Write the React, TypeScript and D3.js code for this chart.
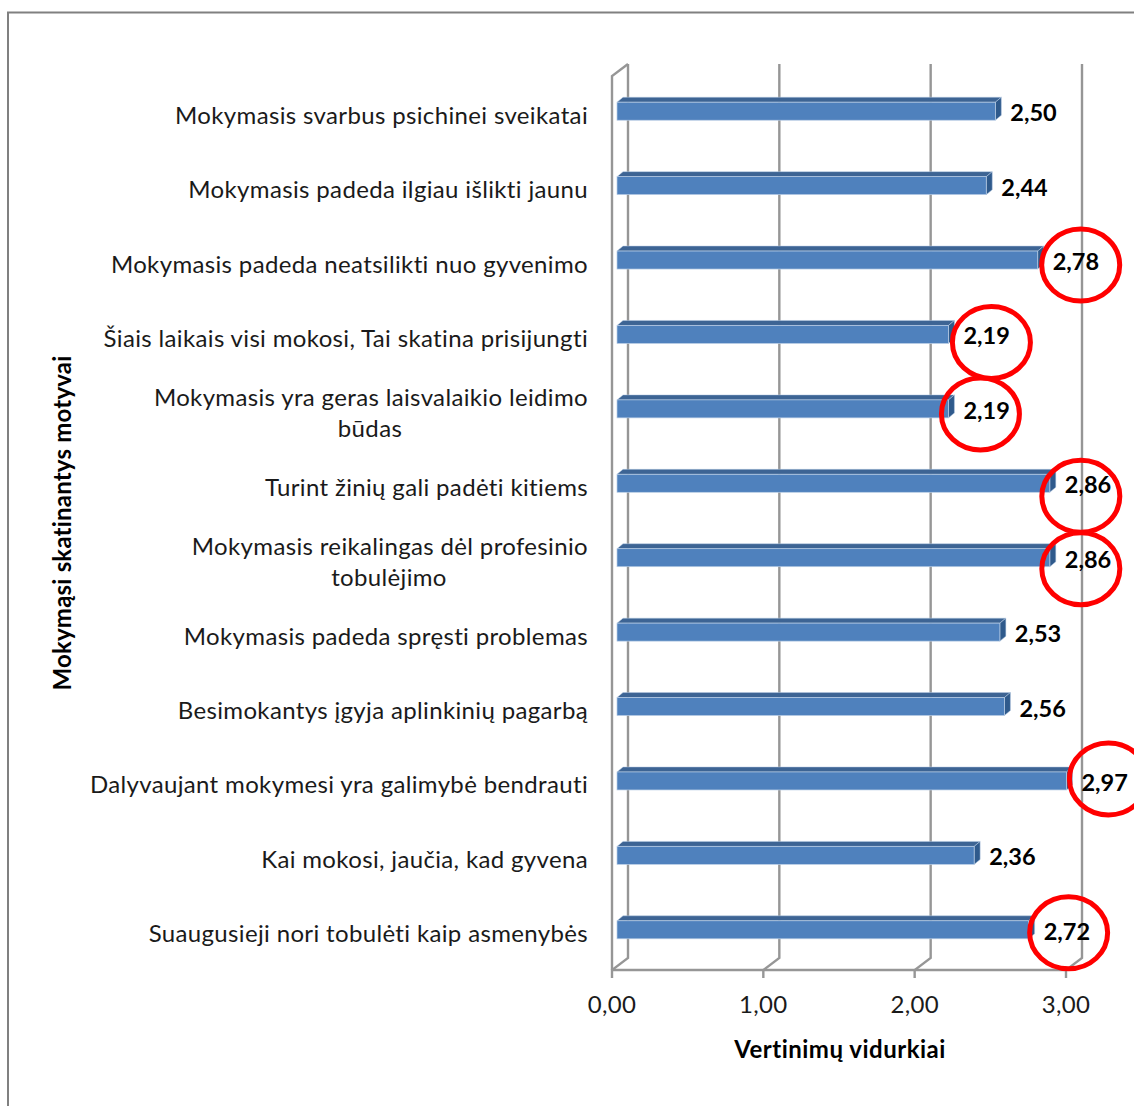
import React from "react";
import * as d3 from "d3";

const categories = [
  ["Mokymasis svarbus psichinei sveikatai"],
  ["Mokymasis padeda ilgiau išlikti jaunu"],
  ["Mokymasis padeda neatsilikti nuo gyvenimo"],
  ["Šiais laikais visi mokosi, Tai skatina prisijungti"],
  ["Mokymasis yra geras laisvalaikio leidimo", "būdas"],
  ["Turint žinių gali padėti kitiems"],
  ["Mokymasis reikalingas dėl profesinio", "tobulėjimo"],
  ["Mokymasis padeda spręsti problemas"],
  ["Besimokantys įgyja aplinkinių pagarbą"],
  ["Dalyvaujant mokymesi yra galimybė bendrauti"],
  ["Kai mokosi, jaučia, kad gyvena"],
  ["Suaugusieji nori tobulėti kaip asmenybės"],
];
const values = [2.5, 2.44, 2.78, 2.19, 2.19, 2.86, 2.86, 2.53, 2.56, 2.97, 2.36, 2.72];
const circled = [2, 3, 4, 5, 6, 9, 11];
const tickValues = [0, 1, 2, 3];
const xTitle = "Vertinimų vidurkiai";
const yTitle = "Mokymąsi skatinantys motyvai";

const FONT = "Lato, Carlito, sans-serif";
const DEPTH_X = 16;
const DEPTH_Y = 12;
const GRID = "#969696";
const fmt = (v: number) => v.toFixed(2).replace(".", ",");
const circleOffset: Record<number, [number, number]> = {
  2: [48, 5], 3: [48, 8], 4: [37, 5], 5: [36, 13], 6: [36, 11], 9: [47, -2], 11: [45, 3],
};

export default function App() {
  const x = d3.scaleLinear().domain([0, 3]).range([612, 1066]);
  const y = d3.scaleBand<number>().domain(d3.range(categories.length)).range([74, 967]);
  const floor = 970;
  const top = 76;
  return (
    <svg width={1134} height={1106} style={{ position: "absolute", left: 0, top: 0, background: "#fff" }} fontFamily={FONT}>
      <path d="M8,1106V12.5H1134" fill="none" stroke="#808080" strokeWidth={2} />
      {/* walls */}
      <g fill="none" stroke={GRID} strokeWidth={2.4}>
        <path d={`M${x(0)},${floor}V${top}L${x(0) + DEPTH_X},${top - DEPTH_Y}`} />
        <path d={`M${x(0)},${floor}H${x(3)}`} />
        {tickValues.map((t) => (
          <g key={t}>
            <path d={`M${x(t)},${floor + 8}V${floor}L${x(t) + DEPTH_X},${floor - DEPTH_Y}V${top - DEPTH_Y}`} />
          </g>
        ))}
      </g>
      {/* bars */}
      {values.map((v, i) => {
        const c = y(i)! + y.bandwidth() / 2;
        const x0 = x(0) + 5;
        const x1 = x(v) + 5;
        const t = c - 9;
        const b = c + 9;
        return (
          <g key={i}>
            <path d={`M${x0},${t}L${x0 + 6},${t - 5}H${x1 + 6}L${x1},${t}Z`} fill="#3d6494" stroke="#b9cde5" strokeWidth={0.5} />
            <path d={`M${x1},${t}L${x1 + 6},${t - 5}V${b - 5}L${x1},${b}Z`} fill="#2f5a8c" stroke="#b9cde5" strokeWidth={0.5} />
            <rect x={x0} y={t} width={x1 - x0} height={b - t} fill="#4f81bd" stroke="#b9cde5" strokeWidth={0.7} />
          </g>
        );
      })}
      {/* category labels */}
      <g fontSize={24} letterSpacing={0.35} fill="#1a1a1a">
        {categories.map((lines, i) => {
          const c = y(i)! + y.bandwidth() / 2;
          if (lines.length === 1) {
            return (
              <text key={i} x={588} y={c + 12.5} textAnchor="end">{lines[0]}</text>
            );
          }
          return (
            <g key={i}>
              <text x={588} y={c - 2.5} textAnchor="end">{lines[0]}</text>
              <text x={i === 4 ? 370 : 389} y={c + 28.5} textAnchor="middle">{lines[1]}</text>
            </g>
          );
        })}
      </g>
      {/* value labels */}
      <g fontSize={23.5} fontWeight={700} fill="#000">
        {values.map((v, i) => (
          <text key={i} x={x(v) + 20} y={y(i)! + y.bandwidth() / 2 + 10}>{fmt(v)}</text>
        ))}
      </g>
      {/* circles */}
      <g fill="none" stroke="#ff0000" strokeWidth={5}>
        {circled.map((i) => {
          const [dx, dy] = circleOffset[i];
          return (
            <ellipse key={i} cx={x(values[i]) + dx} cy={y(i)! + y.bandwidth() / 2 + dy} rx={39} ry={36} />
          );
        })}
      </g>
      {/* x ticks */}
      <g fontSize={24} letterSpacing={0.3} fill="#1a1a1a" textAnchor="middle">
        {tickValues.map((t) => (
          <text key={t} x={x(t)} y={1013}>{fmt(t)}</text>
        ))}
      </g>
      <text x={840} y={1058} fontSize={24} letterSpacing={0.5} fontWeight={700} textAnchor="middle" fill="#000">{xTitle}</text>
      <text transform="translate(71,523) rotate(-90)" fontSize={24} letterSpacing={0.2} fontWeight={700} textAnchor="middle" fill="#000">{yTitle}</text>
    </svg>
  );
}
